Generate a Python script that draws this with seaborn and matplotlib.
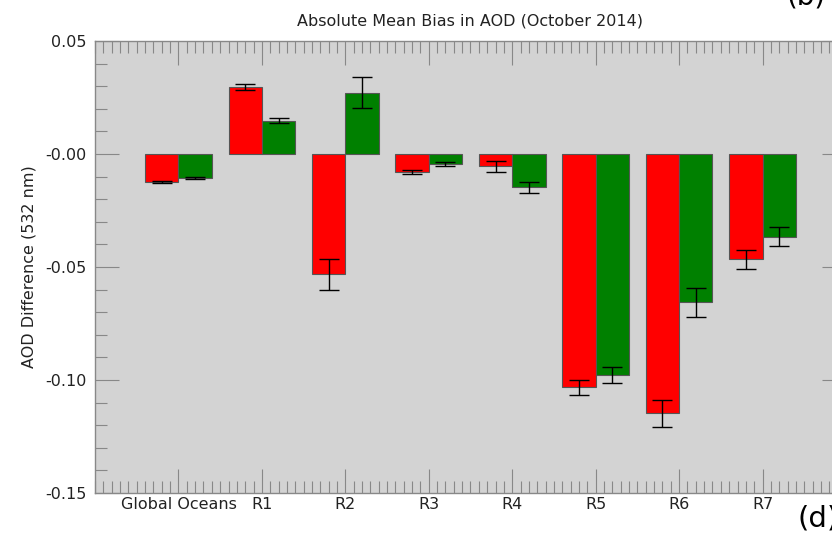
import pandas as pd
import numpy as np
import matplotlib
matplotlib.use("Agg")
import matplotlib.pyplot as plt
import seaborn as sns
from matplotlib.ticker import MultipleLocator, FixedLocator, FixedFormatter

# values
regions = ["Global Oceans", "R1", "R2", "R3", "R4", "R5", "R6", "R7"]
red_bias = [-0.0123, 0.0295, -0.0532, -0.0078, -0.0055, -0.1033, -0.1148, -0.0466]
red_err = [0.0005, 0.0013, 0.0069, 0.0009, 0.0025, 0.0035, 0.0058, 0.0041]
green_bias = [-0.0105, 0.0147, 0.0271, -0.0046, -0.0148, -0.0978, -0.0656, -0.0367]
green_err = [0.0005, 0.0012, 0.0069, 0.0009, 0.0024, 0.0036, 0.0063, 0.0042]
series_names = ["Set 1", "Set 2"]

ytick_vals = [0.05, 0.0, -0.05, -0.10, -0.15]
ytick_text = ["0.05", "-0.00", "-0.05", "-0.10", "-0.15"]

df = pd.DataFrame({
    "region": regions * 2,
    "bias": red_bias + green_bias,
    "series": [series_names[0]] * len(regions) + [series_names[1]] * len(regions),
})

sns.set_style("ticks", {"axes.facecolor": "#d3d3d3"})
plt.rcParams["font.family"] = ["DejaVu Sans"]

fig = plt.figure(figsize=(8.32, 5.41), dpi=100)
ax = fig.add_axes([0.1142, 0.0887, 0.9026, 0.8355])

sns.barplot(data=df, x="region", y="bias", hue="series", order=regions,
            hue_order=series_names, palette=["#ff0000", "#008000"],
            errorbar=None, width=0.8, edgecolor="#555555", linewidth=0.8,
            saturation=1, legend=False, ax=ax)

# error bars at the end of each bar
errs = {series_names[0]: red_err, series_names[1]: green_err}
for cont, name in zip(ax.containers, series_names):
    xs = [b.get_x() + b.get_width() / 2 for b in cont]
    ys = [b.get_y() + b.get_height() for b in cont]
    ax.errorbar(xs, ys, yerr=errs[name], fmt="none", ecolor="black",
                elinewidth=1, capsize=7, capthick=1, zorder=5)

ax.set_xlim(-1, 8)
ax.set_ylim(-0.15, 0.05)

ax.yaxis.set_major_locator(FixedLocator(ytick_vals))
ax.yaxis.set_major_formatter(FixedFormatter(ytick_text))
ax.yaxis.set_minor_locator(MultipleLocator(0.01))
ax.xaxis.set_minor_locator(MultipleLocator(0.1))

ax.tick_params(which="both", direction="in", top=True, right=True,
               color="#888888", width=0.8, labelcolor="#222222")
ax.tick_params(which="major", length=17, labelsize=11.5)
ax.tick_params(which="minor", length=8.5)
ax.tick_params(axis="y", pad=6)
ax.tick_params(axis="x", pad=3)

for s in ax.spines.values():
    s.set_visible(True)
    s.set_color("#888888")
    s.set_linewidth(1)

ax.set_xlabel("")
ax.set_ylabel("AOD Difference (532 nm)", fontsize=11.5, color="#222222", labelpad=6)
ax.set_title("Absolute Mean Bias in AOD (October 2014)", fontsize=11.5, color="#222222", pad=11)

fig.text(0.946, 0.9815, "(b)", fontsize=20, color="black", va="bottom", ha="left")
fig.text(0.958, 0.068, "(d)", fontsize=21, color="black", va="top", ha="left")

fig.savefig("out.png", dpi=100)
